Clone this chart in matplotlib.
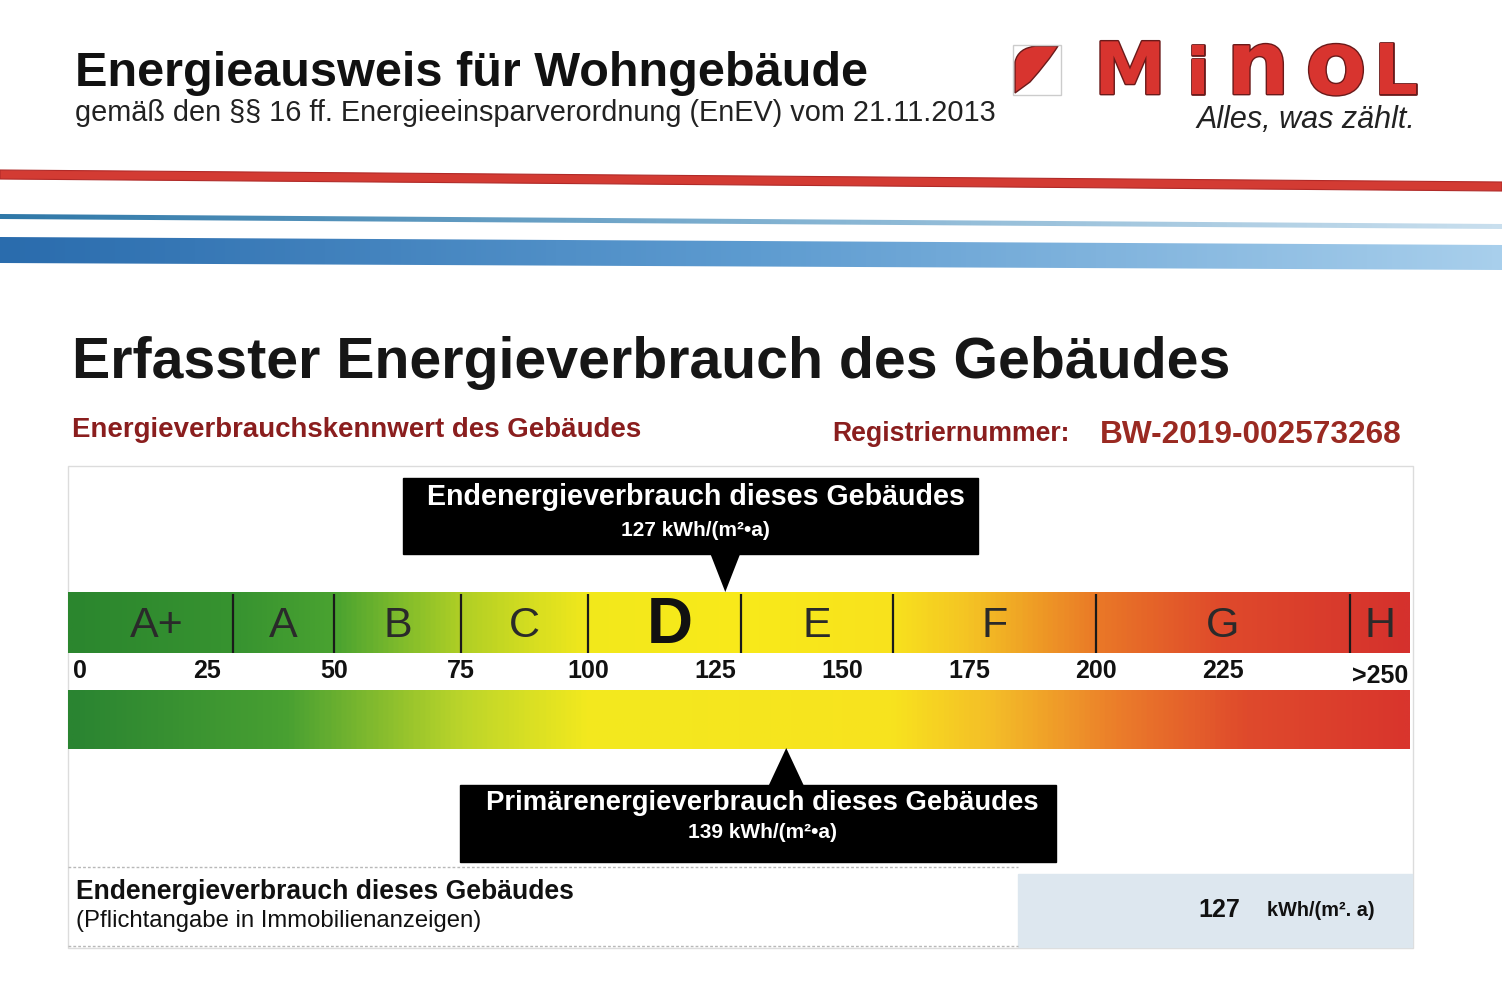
import numpy as np
import matplotlib
matplotlib.use('Agg')
import matplotlib.pyplot as plt
from matplotlib.colors import LinearSegmentedColormap, Normalize
from matplotlib.patches import Rectangle, Polygon, PathPatch
from matplotlib.path import Path
import matplotlib.patheffects as pe

plt.rcParams['font.family'] = ['Liberation Sans', 'DejaVu Sans']

# --- data -------------------------------------------------------------
classes = ['A+', 'A', 'B', 'C', 'D', 'E', 'F', 'G', 'H']
class_lower = [0, 30, 50, 75, 100, 130, 160, 200, 250]
tick_values = [0, 25, 50, 75, 100, 125, 150, 175, 200, 225]
tick_labels = ['0', '25', '50', '75', '100', '125', '150', '175', '200', '225']
open_label = '>250'
current_class = 'D'
end_energy = 127
primary_energy = 139
reg_number = 'BW-2019-002573268'

# colour stops along the scale (kWh/(m²a))
top_stops = [(-2.4, '#2b862e'), (30, '#379330'), (50, '#4aa330'), (62, '#7cba2c'),
             (75, '#b0cf25'), (90, '#d9df20'), (100, '#f2e81c'), (130, '#f9ea1a'),
             (160, '#f8e21d'), (175, '#f4c424'), (200, '#ea7a27'), (225, '#df4a2b'),
             (261.8, '#d5312d')]
low_stops = [(-2.4, '#2a8431'), (40, '#48a032'), (75, '#bcd52a'), (100, '#f3e91e'),
             (160, '#f8e31e'), (180, '#f4bd28'), (205, '#eb7c2a'), (230, '#df4a2c'),
             (261.8, '#d9352d')]

X0, X1 = -2.4, 261.8
W, H = 1502, 986

fig = plt.figure(figsize=(W / 100, H / 100), dpi=100)
ax = fig.add_axes([0, 0, 1, 1])
ax.set_xlim(0, W)
ax.set_ylim(H, 0)
ax.axis('off')

# --- header -----------------------------------------------------------
ax.text(75, 73, 'Energieausweis für Wohngebäude', fontsize=35, fontweight='bold',
        color='#111111', va='center')
ax.text(75, 113, 'gemäß den §§ 16 ff. Energieeinsparverordnung (EnEV) vom 21.11.2013',
        fontsize=20.8, color='#222222', va='center')

# logo
logo_red = '#d8342f'
icon = Path([(1015, 93), (1015, 62), (1018, 48), (1036, 46), (1058, 46),
             (1048, 62), (1030, 82), (1015, 93)],
            [Path.MOVETO, Path.LINETO, Path.CURVE3, Path.CURVE3, Path.LINETO,
             Path.CURVE3, Path.CURVE3, Path.CLOSEPOLY])
ax.add_patch(PathPatch(icon, fc=logo_red, ec='#6a1a1a', lw=1))
ax.add_patch(Rectangle((1013, 45), 48, 50, fill=False, ec='#cccccc', lw=1))
logo_letters = [('M', 1130, 52), ('i', 1198, 46), ('n', 1258, 64), ('o', 1336, 64), ('L', 1396, 50)]
for ch, cx, fs in logo_letters:
    ax.text(cx, 94, ch, fontsize=fs, fontweight='bold', color=logo_red, ha='center',
            va='baseline', family='DejaVu Sans',
            path_effects=[pe.withStroke(linewidth=2, foreground='#6a1a1a')])
ax.text(1415, 120, 'Alles, was zählt.', fontsize=22, fontstyle='italic', color='#222222',
        ha='right', va='center')

# stripes
ax.add_patch(Polygon([(0, 170), (W, 182), (W, 191), (0, 179)], closed=True,
                     fc='#d33b33', ec='#b02a28', lw=0.8))
grad = np.linspace(0, 1, 300)[None, :]
thin_cmap = LinearSegmentedColormap.from_list('thin', ['#2f78a8', '#7fb0d0', '#c9dfee'])
band_cmap = LinearSegmentedColormap.from_list('band', ['#2a6cad', '#5d9bd0', '#a8cfec'])
im1 = ax.imshow(grad, extent=(0, W, 232, 212), aspect='auto', cmap=thin_cmap, zorder=1)
im1.set_clip_path(Polygon([(0, 214), (W, 224), (W, 229), (0, 219)], closed=True,
                          transform=ax.transData))
im2 = ax.imshow(grad, extent=(0, W, 272, 234), aspect='auto', cmap=band_cmap, zorder=1)
im2.set_clip_path(Polygon([(0, 237), (W, 245), (W, 270), (0, 263)], closed=True,
                          transform=ax.transData))

# --- section title ----------------------------------------------------
ax.text(72, 363, 'Erfasster Energieverbrauch des Gebäudes', fontsize=41.2, fontweight='bold',
        color='#161616', va='center')
dark_red = '#8a1e1e'
ax.text(72, 430, 'Energieverbrauchskennwert des Gebäudes', fontsize=19.9, fontweight='bold',
        color=dark_red, va='center')
ax.text(832, 434, 'Registriernummer:', fontsize=19.2, fontweight='bold', color=dark_red, va='center')
ax.text(1100, 435, reg_number, fontsize=22.8, fontweight='bold', color='#9a2a22', va='center')

# frame
ax.add_patch(Rectangle((68, 466), 1345, 482, fill=False, ec='#dcdcdc', lw=1))

# --- scale axes (x in kWh/(m²a)) ---------------------------------------
sc = fig.add_axes([68 / W, 0, 1342 / W, 1])
sc.set_xlim(X0, X1)
sc.set_ylim(H, 0)
sc.axis('off')
sc.patch.set_alpha(0)


def stops_cmap(name, stops):
    return LinearSegmentedColormap.from_list(
        name, [((v - X0) / (X1 - X0), c) for v, c in stops])


xs = np.linspace(X0, X1, 800)[None, :]
sc.imshow(xs, extent=(X0, X1, 653, 592), aspect='auto', cmap=stops_cmap('top', top_stops),
          norm=Normalize(X0, X1))
sc.imshow(xs, extent=(X0, X1, 749, 690), aspect='auto', cmap=stops_cmap('low', low_stops),
          norm=Normalize(X0, X1))
sc.vlines(class_lower[1:], 594, 653, color='#1a1a1a', lw=1.6)

class_upper = class_lower[1:] + [X1]
for name, lo, hi in zip(classes, class_lower, class_upper):
    mid = (lo + hi) / 2
    if name == current_class:
        sc.text(mid + 1, 626, name, fontsize=46, fontweight='bold', color='#111111',
                ha='center', va='center')
    else:
        sc.text(mid, 626, name, fontsize=31, color='#2a2a2a', ha='center', va='center')

for v, lab in zip(tick_values, tick_labels):
    sc.text(v, 671, lab, fontsize=18, fontweight='bold', color='#111111', ha='center', va='center')
sc.text((class_lower[-1] + X1) / 2, 676, open_label, fontsize=18, fontweight='bold',
        color='#111111', ha='center', va='center')

# end energy marker
ax.add_patch(Rectangle((403, 478), 575, 76, color='black'))
sc.fill([end_energy - 3, end_energy + 3, end_energy], [553, 553, 592], color='black', lw=0)
ax.text(696, 497, 'Endenergieverbrauch dieses Gebäudes', fontsize=20.6, fontweight='bold',
        color='white', ha='center', va='center')
ax.text(695, 530, f'{end_energy} kWh/(m²•a)', fontsize=15, fontweight='bold',
        color='white', ha='center', va='center')

# primary energy marker
ax.add_patch(Rectangle((460, 785), 596, 77, color='black'))
sc.fill([primary_energy - 3.5, primary_energy + 3.5, primary_energy], [786, 786, 748],
        color='black', lw=0)
ax.text(762, 803, 'Primärenergieverbrauch dieses Gebäudes', fontsize=19.8, fontweight='bold',
        color='white', ha='center', va='center')
ax.text(762, 833, f'{primary_energy} kWh/(m²•a)', fontsize=15, fontweight='bold',
        color='white', ha='center', va='center')

# --- bottom box -------------------------------------------------------
ax.hlines([867, 946], 68, 1018, color='#b8b8b8', lw=1, linestyles=(0, (2, 1.5)))
ax.add_patch(Rectangle((1018, 874), 394, 73, color='#dde7ef'))
ax.text(76, 892, 'Endenergieverbrauch dieses Gebäudes', fontsize=19.1, fontweight='bold',
        color='#111111', va='center')
ax.text(76, 921, '(Pflichtangabe in Immobilienanzeigen)', fontsize=17.2, color='#111111', va='center')
ax.text(1219, 910, str(end_energy), fontsize=18, fontweight='bold', color='#111111',
        ha='center', va='center')
ax.text(1267, 911, 'kWh/(m². a)', fontsize=14.3, fontweight='bold', color='#111111', va='center')

fig.savefig('out.png', dpi=100)
